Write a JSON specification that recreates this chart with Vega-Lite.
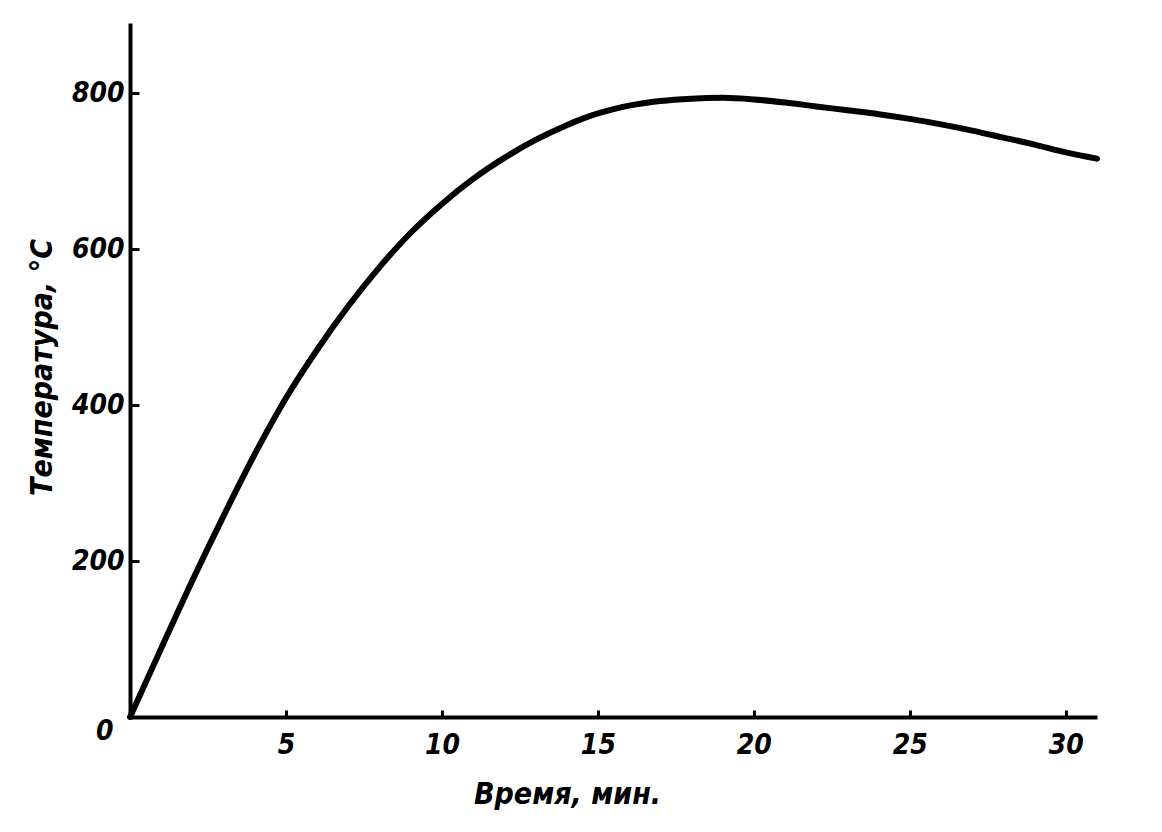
{
  "$schema": "https://vega.github.io/schema/vega-lite/v6.json",
  "autosize": "none",
  "width": 967,
  "height": 694,
  "padding": {"left": 130, "top": 23, "right": 65, "bottom": 115},
  "background": "white",
  "config": {
    "view": {"stroke": null},
    "axis": {
      "labelFont": "DejaVu Sans Condensed",
      "labelFontStyle": "italic",
      "labelFontWeight": "bold",
      "labelFontSize": 28,
      "labelColor": "black",
      "titleFont": "DejaVu Sans Condensed",
      "titleFontStyle": "italic",
      "titleFontWeight": "bold",
      "titleFontSize": 30,
      "titleColor": "black",
      "domainColor": "black",
      "domainWidth": 4,
      "tickColor": "black",
      "tickWidth": 3,
      "grid": false
    }
  },
  "data": {
    "values": [
      {"t": 0, "T": 0},
      {"t": 1, "T": 88},
      {"t": 2, "T": 175},
      {"t": 3, "T": 258},
      {"t": 4, "T": 337},
      {"t": 5, "T": 409},
      {"t": 6, "T": 471},
      {"t": 7, "T": 527},
      {"t": 8, "T": 577},
      {"t": 9, "T": 621},
      {"t": 10, "T": 658},
      {"t": 11, "T": 690},
      {"t": 12, "T": 717},
      {"t": 13, "T": 740},
      {"t": 14, "T": 759},
      {"t": 15, "T": 774},
      {"t": 16, "T": 784},
      {"t": 17, "T": 790},
      {"t": 18, "T": 793},
      {"t": 19, "T": 794},
      {"t": 20, "T": 792},
      {"t": 21, "T": 788},
      {"t": 22, "T": 783},
      {"t": 23, "T": 778},
      {"t": 24, "T": 773},
      {"t": 25, "T": 767},
      {"t": 26, "T": 760},
      {"t": 27, "T": 752},
      {"t": 28, "T": 743},
      {"t": 29, "T": 734},
      {"t": 30, "T": 724},
      {"t": 31, "T": 716}
    ]
  },
  "mark": {"type": "line", "color": "black", "strokeWidth": 6, "interpolate": "monotone", "strokeCap": "round"},
  "encoding": {
    "x": {
      "field": "t",
      "type": "quantitative",
      "scale": {"domain": [0, 31], "nice": false, "zero": true},
      "axis": {
        "values": [5, 10, 15, 20, 25, 30],
        "tickSize": -7,
        "labelPadding": 21,
        "title": "Время, мин.",
        "titleAnchor": "start",
        "titleAlign": "center",
        "titleX": 437,
        "titleY": 77,
        "titleBaseline": "middle"
      }
    },
    "y": {
      "field": "T",
      "type": "quantitative",
      "scale": {"domain": [0, 890], "nice": false},
      "axis": {
        "values": [0, 200, 400, 600, 800],
        "tickSize": -9,
        "labelPadding": {"condition": {"test": "datum.value === 0", "value": 26}, "value": 15},
        "labelOffset": {"condition": {"test": "datum.value === 0", "value": 14}, "value": 0},
        "title": "Температура, °С",
        "titleX": -88,
        "titleY": 344,
        "titleAlign": "center",
        "titleBaseline": "middle",
        "titleAngle": 270
      }
    }
  }
}
